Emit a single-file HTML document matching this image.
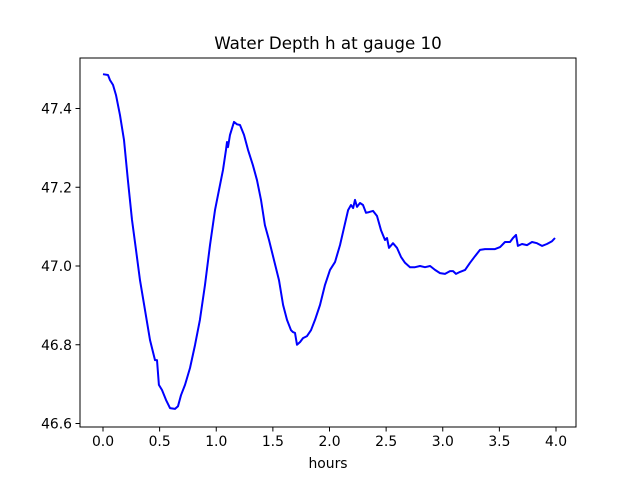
<!DOCTYPE html>
<html><head><meta charset="utf-8"><style>
body{margin:0;background:#fff}
svg{display:block;font-family:"DejaVu Sans","Liberation Sans",sans-serif}
</style></head><body>
<svg id="chart" width="640" height="480">
<rect x="0" y="0" width="640" height="480" fill="#fff"/>
<text x="328" y="49" font-size="16.7" text-anchor="middle">Water Depth h at gauge 10</text>
<g id="axes"></g>
<polyline id="line" fill="none" stroke="#0000ff" stroke-width="2" stroke-linejoin="round"/>
<rect x="80" y="58" width="496" height="369" fill="none" stroke="#000" stroke-width="1"/>
<text x="328" y="468" font-size="13.9" text-anchor="middle">hours</text>
</svg>
<script>
const hours=[0,0.044,0.062,0.088,0.115,0.15,0.185,0.22,0.256,0.291,0.327,0.371,0.415,0.459,0.477,0.494,0.521,0.556,0.592,0.636,0.662,0.689,0.724,0.768,0.812,0.856,0.901,0.945,0.989,1.033,1.06,1.086,1.095,1.104,1.121,1.157,1.183,1.21,1.245,1.28,1.324,1.36,1.395,1.43,1.466,1.51,1.554,1.59,1.625,1.66,1.678,1.695,1.713,1.74,1.766,1.801,1.837,1.872,1.916,1.96,2.004,2.049,2.093,2.128,2.164,2.19,2.208,2.225,2.243,2.269,2.296,2.322,2.349,2.384,2.419,2.455,2.49,2.508,2.525,2.561,2.596,2.631,2.667,2.711,2.755,2.799,2.843,2.888,2.932,2.976,3.02,3.064,3.091,3.117,3.152,3.197,3.241,3.285,3.329,3.373,3.417,3.461,3.506,3.55,3.594,3.62,3.647,3.664,3.7,3.744,3.788,3.832,3.876,3.92,3.965,3.991];
const depth=[47.487,47.485,47.472,47.46,47.434,47.383,47.32,47.218,47.117,47.041,46.964,46.888,46.812,46.761,46.761,46.698,46.685,46.66,46.639,46.637,46.644,46.672,46.698,46.741,46.799,46.863,46.952,47.053,47.142,47.206,47.244,47.295,47.315,47.302,47.333,47.366,47.36,47.358,47.333,47.295,47.256,47.218,47.168,47.104,47.066,47.015,46.964,46.901,46.863,46.837,46.832,46.83,46.8,46.807,46.817,46.822,46.837,46.863,46.901,46.952,46.99,47.01,47.053,47.097,47.142,47.155,47.147,47.168,47.15,47.16,47.155,47.135,47.137,47.14,47.127,47.091,47.066,47.071,47.046,47.058,47.046,47.023,47.008,46.997,46.997,47.0,46.997,47.0,46.99,46.982,46.98,46.987,46.987,46.98,46.985,46.99,47.008,47.025,47.041,47.043,47.043,47.043,47.048,47.061,47.061,47.071,47.079,47.051,47.056,47.053,47.061,47.058,47.051,47.056,47.063,47.071];
const xTicks=[0,0.5,1,1.5,2,2.5,3,3.5,4];
const yTicks=[46.6,46.8,47.0,47.2,47.4];
const xs=v=>103+v*113.25;
const ys=v=>266-(v-47)*393.75;
const NS='http://www.w3.org/2000/svg';
const ax=document.getElementById('axes');
xTicks.forEach(t=>{
  const l=document.createElementNS(NS,'line');
  l.setAttribute('x1',xs(t));l.setAttribute('x2',xs(t));l.setAttribute('y1',427);l.setAttribute('y2',431.5);l.setAttribute('stroke','#000');
  
  
  ax.appendChild(l);
  const tx=document.createElementNS(NS,'text');
  tx.setAttribute('x',xs(t));tx.setAttribute('y',446);tx.setAttribute('font-size','13.9');tx.setAttribute('text-anchor','middle');
  tx.textContent=t.toFixed(1);
  
  
  ax.appendChild(tx);
});
yTicks.forEach(t=>{
  const l=document.createElementNS(NS,'line');
  l.setAttribute('x1',75.5);l.setAttribute('x2',80);l.setAttribute('y1',ys(t));l.setAttribute('y2',ys(t));l.setAttribute('stroke','#000');
  
  
  ax.appendChild(l);
  const tx=document.createElementNS(NS,'text');
  tx.setAttribute('x',72);tx.setAttribute('y',ys(t)+5);tx.setAttribute('font-size','13.9');tx.setAttribute('text-anchor','end');
  tx.textContent=t.toFixed(1);
  
  
  ax.appendChild(tx);
});
document.getElementById('line').setAttribute('points',hours.map((h,i)=>xs(h).toFixed(1)+','+ys(depth[i]).toFixed(1)).join(' '));
</script>
</body></html>
